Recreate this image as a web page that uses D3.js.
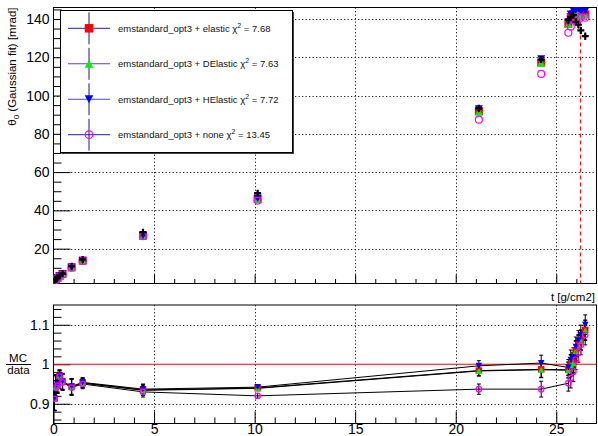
<!DOCTYPE html>
<html>
<head>
<meta charset="utf-8">
<script src="https://cdn.jsdelivr.net/npm/d3@7"></script>
<style>
  body { margin: 0; background: #fff; }
  svg { display: block; }
  text { font-family: "Liberation Sans", Arial, Helvetica, sans-serif; }
</style>
</head>
<body>
<svg id="chart" width="598" height="436"></svg>
<script>
// ---- thickness points [g/cm2] ----
const thickness = [0.05, 0.12, 0.2, 0.3, 0.45, 0.9, 1.45, 4.45, 10.15, 21.15, 24.25,
                   25.6, 25.72, 25.85, 25.97, 26.1, 26.22, 26.44];

// ---- measured theta0 [mrad] ----
const dataTheta = [3.0, 4.2, 5.0, 5.8, 7.0, 10.8, 14.4, 28.6, 49.0, 93.3, 118.8,
                   139.5, 141.0, 142.0, 138.5, 137.0, 134.0, 131.0];
const dataErr   = [0.4, 0.4, 0.4, 0.4, 0.5, 0.6, 0.7, 1.0, 1.5, 1.5, 1.8,
                   2.0, 2.0, 2.0, 2.0, 2.0, 2.0, 2.0];

// ---- simulated theta0 [mrad] ----
const elasticTheta  = [2.8, 3.9, 4.7, 5.6, 6.7, 10.2, 13.7, 26.7, 46.0, 91.8, 117.2,
                       137.5, 141.0, 142.7, 143.3, 143.8, 142.3, 142.4];
const dElasticTheta = [2.8, 3.9, 4.7, 5.6, 6.7, 10.2, 13.7, 26.6, 45.9, 91.6, 117.1,
                       137.4, 140.7, 142.5, 143.1, 143.6, 142.0, 142.1];
const hElasticTheta = [2.8, 4.0, 4.8, 5.7, 6.8, 10.3, 13.8, 26.8, 46.3, 93.0, 119.1,
                       138.4, 142.5, 144.4, 144.6, 145.2, 143.9, 144.1];
const noneTheta     = [2.7, 3.8, 4.7, 5.6, 6.6, 10.1, 13.6, 26.5, 45.1, 87.4, 111.3,
                       132.8, 136.0, 139.3, 140.0, 141.0, 140.6, 140.7];

// ---- MC / data ratios ----
const elasticRatio  = [0.913, 0.942, 0.948, 0.971, 0.956, 0.943, 0.953, 0.935, 0.940, 0.984, 0.987,
                       0.986, 1.000, 1.005, 1.035, 1.050, 1.062, 1.087];
const dElasticRatio = [0.913, 0.942, 0.947, 0.970, 0.955, 0.943, 0.952, 0.934, 0.939, 0.983, 0.986,
                       0.985, 0.998, 1.003, 1.033, 1.048, 1.060, 1.085];
const hElasticRatio = [0.914, 0.944, 0.950, 0.972, 0.957, 0.944, 0.954, 0.937, 0.942, 0.996, 1.003,
                       0.992, 1.011, 1.017, 1.044, 1.060, 1.074, 1.100];
const noneRatio     = [0.912, 0.940, 0.946, 0.969, 0.954, 0.941, 0.950, 0.930, 0.920, 0.937, 0.937,
                       0.952, 0.965, 0.981, 1.011, 1.030, 1.049, 1.074];
const ratioErr      = [0.030, 0.030, 0.020, 0.014, 0.020, 0.020, 0.012, 0.013, 0.006, 0.013, 0.020,
                       0.020, 0.025, 0.025, 0.025, 0.025, 0.025, 0.025];

// ---- legend ----
const seriesNames = ["emstandard_opt3 + elastic", "emstandard_opt3 + DElastic",
                     "emstandard_opt3 + HElastic", "emstandard_opt3 + none"];
const chi2Values  = ["7.68", "7.63", "7.72", "13.45"];

// ---- axis ticks ----
const thetaTicks = [20, 40, 60, 80, 100, 120, 140];
const ratioTicks = [0.9, 1, 1.1];
const tTicks = [0, 5, 10, 15, 20, 25];
const cutThickness = 26.2;

// ---- drawing ----
const svg = d3.select("#chart");
const X0 = 53.5, X1 = 596.5;
const pTop = { y0: 7.5, y1: 283.5 };
const pBot = { y0: 305, y1: 423.5 };

const x = d3.scaleLinear().domain([0, 27]).range([X0, X1]);
const yTop = d3.scaleLinear().domain([1.8, 146]).range([pTop.y1, pTop.y0]);
const yBot = d3.scaleLinear().domain([0.85, 1.15]).range([pBot.y1, pBot.y0]);

const styles = [
  { name: "elastic",  theta: elasticTheta,  ratio: elasticRatio,  color: "#ff0000", shape: "square" },
  { name: "DElastic", theta: dElasticTheta, ratio: dElasticRatio, color: "#00ee00", shape: "tri" },
  { name: "HElastic", theta: hElasticTheta, ratio: hElasticRatio, color: "#0000ff", shape: "tridown" },
  { name: "none",     theta: noneTheta,     ratio: noneRatio,     color: "#ff00ff", shape: "circle" }
];

function marker(g, shape, cx, cy, size, color) {
  if (shape === "square") {
    g.append("rect").attr("x", cx - size / 2).attr("y", cy - size / 2)
      .attr("width", size).attr("height", size).attr("fill", color);
  } else if (shape === "tri" || shape === "tridown") {
    const h = size * 0.95, w = size;
    const s = shape === "tri" ? 1 : -1;
    g.append("path")
      .attr("d", `M${cx},${cy - s * h / 2}L${cx + w / 2},${cy + s * h / 2}L${cx - w / 2},${cy + s * h / 2}Z`)
      .attr("fill", color);
  } else {
    g.append("circle").attr("cx", cx).attr("cy", cy).attr("r", size / 2 - 0.5)
      .attr("fill", "none").attr("stroke", color).attr("stroke-width", 1.2);
  }
}

function grid(g, xs, ys, yScale, y0, y1) {
  const gg = g.append("g").attr("stroke", "#000").attr("stroke-width", 1)
    .attr("stroke-dasharray", "1.3,2.2").attr("opacity", 0.85);
  xs.forEach(v => gg.append("line").attr("x1", Math.round(x(v)) + 0.5).attr("x2", Math.round(x(v)) + 0.5)
    .attr("y1", y0).attr("y2", y1));
  ys.forEach(v => gg.append("line").attr("x1", X0).attr("x2", X1)
    .attr("y1", Math.round(yScale(v)) + 0.5).attr("y2", Math.round(yScale(v)) + 0.5));
}

function styleAxis(a) {
  a.select(".domain").remove();
  a.selectAll("line").attr("stroke", "#000");
  a.selectAll("text").attr("fill", "#000").style("font-size", "14px")
    .style("font-family", "'Liberation Sans', Arial, sans-serif");
}

// ===== upper panel =====
const gTop = svg.append("g");
grid(gTop, [5, 10, 15, 20, 25], thetaTicks, yTop, pTop.y0, pTop.y1);

const thetaMinor = d3.range(5, 146, 5).filter(v => v % 20 !== 0);
gTop.append("g").attr("transform", `translate(${X0},0)`)
  .call(d3.axisLeft(yTop).tickValues(thetaMinor).tickSize(-8).tickFormat(""))
  .call(styleAxis);
gTop.append("g").attr("transform", `translate(${X0},0)`)
  .call(d3.axisLeft(yTop).tickValues(thetaTicks).tickSize(-17).tickPadding(4))
  .call(styleAxis);
const tMinor = d3.range(1, 27, 1).filter(v => v % 5 !== 0);
gTop.append("g").attr("transform", `translate(0,${pTop.y1})`)
  .call(d3.axisBottom(x).tickValues(tMinor).tickSize(-4.5).tickFormat(""))
  .call(styleAxis);
gTop.append("g").attr("transform", `translate(0,${pTop.y1})`)
  .call(d3.axisBottom(x).tickValues(tTicks).tickSize(-9).tickFormat(""))
  .call(styleAxis);

gTop.append("rect").attr("x", X0).attr("y", pTop.y0).attr("width", X1 - X0).attr("height", pTop.y1 - pTop.y0)
  .attr("fill", "none").attr("stroke", "#000").attr("stroke-width", 1);

// cut position
gTop.append("line").attr("x1", x(cutThickness)).attr("x2", x(cutThickness))
  .attr("y1", pTop.y0).attr("y2", pTop.y1)
  .attr("stroke", "#ff0000").attr("stroke-width", 1).attr("stroke-dasharray", "4,3");

// clipped data area
svg.append("clipPath").attr("id", "clipTop").append("rect")
  .attr("x", X0).attr("y", pTop.y0).attr("width", X1 - X0).attr("height", pTop.y1 - pTop.y0);
const gTopData = gTop.append("g").attr("clip-path", "url(#clipTop)");

styles.forEach(s => {
  thickness.forEach((t, i) => marker(gTopData, s.shape, x(t), yTop(s.theta[i]), 8, s.color));
});
// measured points
thickness.forEach((t, i) => {
  const cx = x(t), cy = yTop(dataTheta[i]);
  gTopData.append("line").attr("x1", cx).attr("x2", cx)
    .attr("y1", yTop(dataTheta[i] + dataErr[i])).attr("y2", yTop(dataTheta[i] - dataErr[i]))
    .attr("stroke", "#000").attr("stroke-width", 1);
  gTopData.append("path").attr("d", `M${cx - 3.5},${cy}H${cx + 3.5}M${cx},${cy - 3.5}V${cy + 3.5}`)
    .attr("stroke", "#000").attr("stroke-width", 2.2);
});

// y-axis title
svg.append("text")
  .attr("transform", `translate(16,7.5) rotate(-90)`)
  .attr("text-anchor", "end").style("font-size", "11.5px").attr("fill", "#000")
  .call(t => {
    t.append("tspan").text("θ");
    t.append("tspan").attr("dy", 3).style("font-size", "8px").text("0");
    t.append("tspan").attr("dy", -3).text(" (Gaussian fit) [mrad]");
  });

// legend
const L = { x: 60.5, y: 10.5, w: 232, h: 142 };
svg.append("rect").attr("x", L.x + 1.5).attr("y", L.y + 1.5).attr("width", L.w).attr("height", L.h)
  .attr("fill", "#444");
svg.append("rect").attr("x", L.x).attr("y", L.y).attr("width", L.w).attr("height", L.h)
  .attr("fill", "#fff").attr("stroke", "#000").attr("stroke-width", 1);
const rowY = d3.scaleLinear().domain([0, 3]).range([28.3, 134.7]);
styles.forEach((s, i) => {
  const cy = rowY(i);
  svg.append("line").attr("x1", 68).attr("x2", 110).attr("y1", cy).attr("y2", cy)
    .attr("stroke", "#4848cc").attr("stroke-width", 1.2);
  svg.append("line").attr("x1", 89).attr("x2", 89).attr("y1", cy - 16).attr("y2", cy + 16)
    .attr("stroke", "#1a1a80").attr("stroke-width", 1);
  const lg = svg.append("g");
  marker(lg, s.shape, 89, cy, 8.5, s.color);
  const txt = svg.append("text").attr("x", 118).attr("y", cy + 3.5)
    .style("font-size", "9.5px").attr("fill", "#111");
  txt.append("tspan").text(seriesNames[i] + " χ");
  txt.append("tspan").attr("dy", -4).style("font-size", "7px").text("2");
  txt.append("tspan").attr("dy", 4).text(" = " + chi2Values[i]);
});

// x title
svg.append("text").attr("x", 595).attr("y", 301).attr("text-anchor", "end")
  .style("font-size", "11.5px").attr("fill", "#000").text("t [g/cm2]");

// ===== lower panel =====
const gBot = svg.append("g");
grid(gBot, [5, 10, 15, 20, 25], [0.9, 1.1], yBot, pBot.y0, pBot.y1);

const ratioMinor = d3.range(0.86, 1.15, 0.02).filter(v => Math.abs(v * 10 - Math.round(v * 10)) > 0.01);
gBot.append("g").attr("transform", `translate(${X0},0)`)
  .call(d3.axisLeft(yBot).tickValues(ratioMinor).tickSize(-8).tickFormat(""))
  .call(styleAxis);
gBot.append("g").attr("transform", `translate(${X0},0)`)
  .call(d3.axisLeft(yBot).tickValues(ratioTicks).tickSize(-17).tickPadding(4).tickFormat(d3.format("~g")))
  .call(styleAxis);
gBot.append("g").attr("transform", `translate(0,${pBot.y1})`)
  .call(d3.axisBottom(x).tickValues(tMinor).tickSize(-6).tickFormat(""))
  .call(styleAxis);
gBot.append("g").attr("transform", `translate(0,${pBot.y1})`)
  .call(d3.axisBottom(x).tickValues(tTicks).tickSize(-12).tickPadding(1))
  .call(styleAxis);

gBot.append("rect").attr("x", X0).attr("y", pBot.y0).attr("width", X1 - X0).attr("height", pBot.y1 - pBot.y0)
  .attr("fill", "none").attr("stroke", "#000").attr("stroke-width", 1);

gBot.append("line").attr("x1", X0).attr("x2", X1).attr("y1", yBot(1)).attr("y2", yBot(1))
  .attr("stroke", "#ff0000").attr("stroke-width", 1.2);

svg.append("clipPath").attr("id", "clipBot").append("rect")
  .attr("x", X0).attr("y", pBot.y0).attr("width", X1 - X0).attr("height", pBot.y1 - pBot.y0);
const gBotData = gBot.append("g").attr("clip-path", "url(#clipBot)");

const line = d3.line().x(d => x(d[0])).y(d => yBot(d[1]));
styles.forEach(s => {
  gBotData.append("path").attr("d", line(thickness.map((t, i) => [t, s.ratio[i]])))
    .attr("fill", "none").attr("stroke", "#000").attr("stroke-width", 1);
});
styles.forEach(s => {
  thickness.forEach((t, i) => {
    const cx = x(t);
    const ya = yBot(s.ratio[i] + ratioErr[i]), yb = yBot(s.ratio[i] - ratioErr[i]);
    gBotData.append("path")
      .attr("d", `M${cx},${ya}V${yb}M${cx - 2},${ya}H${cx + 2}M${cx - 2},${yb}H${cx + 2}`)
      .attr("stroke", "#000").attr("stroke-width", 1).attr("fill", "none");
  });
});
styles.forEach(s => {
  thickness.forEach((t, i) => marker(gBotData, s.shape, x(t), yBot(s.ratio[i]), 6.5, s.color));
});

// ratio title as a fraction
const fr = svg.append("g").style("font-size", "11.5px").attr("fill", "#000");
fr.append("text").attr("x", 18).attr("y", 362).attr("text-anchor", "middle").text("MC");
fr.append("line").attr("x1", 6).attr("x2", 31).attr("y1", 364.5).attr("y2", 364.5)
  .attr("stroke", "#000").attr("stroke-width", 1);
fr.append("text").attr("x", 18.5).attr("y", 374).attr("text-anchor", "middle").text("data");
</script>
</body>
</html>
